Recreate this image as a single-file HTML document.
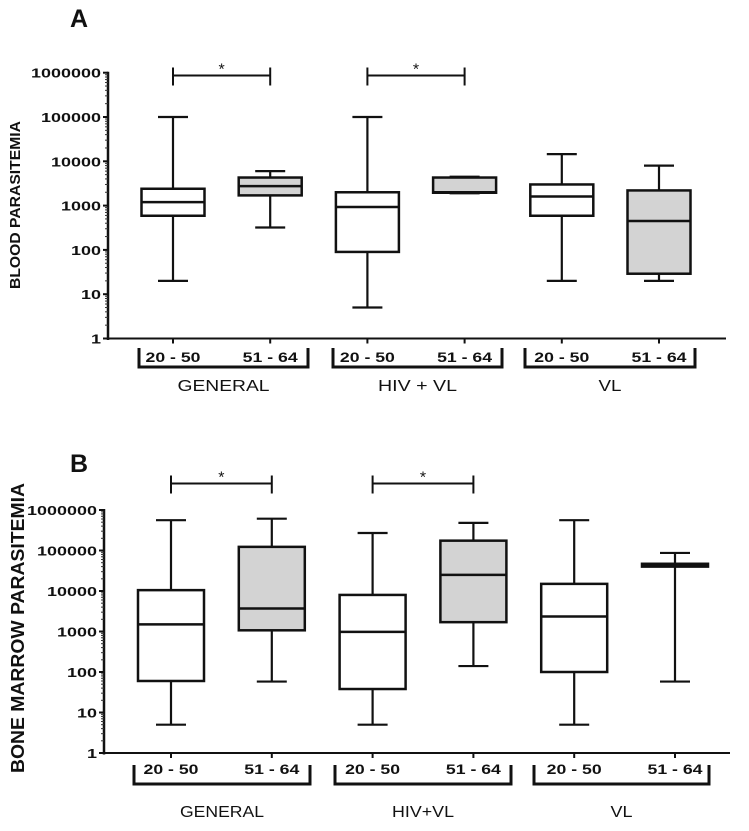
<!DOCTYPE html>
<html><head><meta charset="utf-8"><style>
html,body{margin:0;padding:0;background:#fff;}
svg{display:block;}
text{font-family:"Liberation Sans",Arial,sans-serif;fill:#111;}
</style></head><body>
<svg id="chart" width="749" height="831" viewBox="0 0 749 831" xmlns="http://www.w3.org/2000/svg"></svg>
<script>
// Shared categories
const groups = ["GENERAL", "HIV + VL", "VL"];
const ageBands = ["20 - 50", "51 - 64"];
const tickValues = [1, 10, 100, 1000, 10000, 100000, 1000000];
const tickLabels = ["1", "10", "100", "1000", "10000", "100000", "1000000"];

// Panel A: blood parasitemia [min, q1, median, q3, max] per box
const bloodMin = [20, 320, 5, 1900, 20, 20];
const bloodQ1 = [590, 1700, 90, 1950, 590, 29];
const bloodMedian = [1200, 2750, 930, 2000, 1600, 450];
const bloodQ3 = [2400, 4300, 2000, 4300, 3000, 2200];
const bloodMax = [100000, 6000, 100000, 4500, 14500, 8000];

// Panel B: bone marrow parasitemia
const marrowMin = [5, 58, 5, 140, 5, 58];
const marrowQ1 = [60, 1070, 38, 1700, 100, 40000];
const marrowMedian = [1500, 3700, 980, 25000, 2350, 43000];
const marrowQ3 = [10500, 123000, 8000, 175000, 15000, 47000];
const marrowMax = [560000, 610000, 270000, 480000, 560000, 87000];

// significance pairs (box index pairs)
const sigPairs = [[0, 1], [2, 3]];

const svg = document.getElementById('chart');
const NS = "http://www.w3.org/2000/svg";
function mk(tag, attrs, parent) {
  const e = document.createElementNS(NS, tag);
  for (const k in attrs) e.setAttribute(k, attrs[k]);
  (parent || svg).appendChild(e);
  return e;
}

function drawPanel(cfg) {
  const g = mk('g', {});
  
  
  const y = v => cfg.y1 - (Math.log10(v) - 0) * cfg.dec;
  const x = i => cfg.x0 + i * cfg.step;

  const L = mk('text', {x: 70, y: cfg.letterY, 'font-size': 25, 'font-weight': 'bold'}, g);
  L.textContent = cfg.letter;
  
  

  const t = mk('text', {x: 0, y: 0, 'font-size': cfg.titleSize, 'font-weight': 'bold', 'text-anchor': 'middle',
    transform: `translate(${cfg.titleX},${cfg.titleY}) rotate(-90)`, textLength: cfg.titleLen, lengthAdjust: 'spacingAndGlyphs'}, g);
  t.textContent = cfg.title;
  
  

  const ya = mk('line', {x1: cfg.axX, y1: y(1000000) - 1, x2: cfg.axX, y2: cfg.y1 + 1.5, stroke: '#111', 'stroke-width': 2.5}, g);
  
  
  const xa = mk('line', {x1: cfg.axX - 1, y1: cfg.y1, x2: cfg.axEnd, y2: cfg.y1, stroke: '#111', 'stroke-width': 2}, g);
  
  

  tickValues.forEach((v, i) => {
    const yy = y(v);
    mk('line', {x1: cfg.axX - 5, y1: yy, x2: cfg.axX, y2: yy, stroke: '#111', 'stroke-width': 2}, g);
    const tl = mk('text', {x: cfg.axX - 7, y: yy + 5, 'font-size': 13, 'font-weight': 'bold', 'text-anchor': 'end',
      textLength: tickLabels[i].length * cfg.digitW, lengthAdjust: 'spacingAndGlyphs'}, g);
    tl.textContent = tickLabels[i];
    
    
    if (i < tickValues.length - 1) {
      for (let m = 2; m <= 9; m++) {
        const my = y(v * m);
        mk('line', {x1: cfg.axX - 3, y1: my, x2: cfg.axX, y2: my, stroke: '#333', 'stroke-width': 1}, g);
      }
    }
  });

  const hw = cfg.hw;
  for (let i = 0; i < 6; i++) {
    const cx = x(i);
    const fill = i % 2 === 1 ? '#d3d3d3' : '#fff';
    const b = mk('g', {}, g);
    
    
    mk('line', {x1: cx, y1: y(cfg.max[i]), x2: cx, y2: y(cfg.min[i]), stroke: '#111', 'stroke-width': 2.2}, b);
    mk('line', {x1: cx - 15, y1: y(cfg.max[i]), x2: cx + 15, y2: y(cfg.max[i]), stroke: '#111', 'stroke-width': 2.2}, b);
    mk('line', {x1: cx - 15, y1: y(cfg.min[i]), x2: cx + 15, y2: y(cfg.min[i]), stroke: '#111', 'stroke-width': 2.2}, b);
    const top = y(cfg.q3[i]), bot = y(cfg.q1[i]);
    mk('rect', {x: cx - hw, y: top, width: hw * 2, height: Math.max(bot - top, 0.5), fill: fill, stroke: '#111', 'stroke-width': 2.5}, b);
    mk('line', {x1: cx - hw, y1: y(cfg.med[i]), x2: cx + hw, y2: y(cfg.med[i]), stroke: '#111', 'stroke-width': 2.5}, b);
    mk('line', {x1: cx, y1: cfg.y1, x2: cx, y2: cfg.y1 + 5, stroke: '#111', 'stroke-width': 2}, g);
    const al = mk('text', {x: cx, y: cfg.ageY, 'font-size': 14, 'font-weight': 'bold', 'text-anchor': 'middle',
      textLength: 55, lengthAdjust: 'spacingAndGlyphs'}, g);
    al.textContent = ageBands[i % 2];
    
    
  }

  groups.forEach((name, gi) => {
    const br = cfg.brackets[gi];
    const p = mk('path', {d: `M${br[0]},${cfg.brTop} V${cfg.brBot} H${br[1]} V${cfg.brTop}`, fill: 'none', stroke: '#111', 'stroke-width': 3}, g);
    
    
    const gl = mk('text', {x: (br[0] + br[1]) / 2, y: cfg.groupY, 'font-size': 16, 'text-anchor': 'middle',
      textLength: cfg.groupLens[gi], lengthAdjust: 'spacingAndGlyphs'}, g);
    gl.textContent = cfg.groupNames[gi];
    
    
  });

  sigPairs.forEach(pr => {
    const a = x(pr[0]), c = x(pr[1]);
    const s = mk('g', {}, g);
    
    
    mk('line', {x1: a, y1: cfg.sigY, x2: c, y2: cfg.sigY, stroke: '#111', 'stroke-width': 2}, s);
    mk('line', {x1: a, y1: cfg.sigY - 8, x2: a, y2: cfg.sigY + 10, stroke: '#111', 'stroke-width': 2}, s);
    mk('line', {x1: c, y1: cfg.sigY - 8, x2: c, y2: cfg.sigY + 10, stroke: '#111', 'stroke-width': 2}, s);
    const st = mk('text', {x: (a + c) / 2, y: cfg.sigY - 1, 'font-size': 16, 'text-anchor': 'middle'}, s);
    st.textContent = '*';
  });
}

drawPanel({
  name: 'panel-a-blood-parasitemia', letter: 'A', letterY: 27,
  title: 'BLOOD PARASITEMIA', titleX: 20, titleY: 205, titleSize: 15, titleLen: 168,
  axX: 108, axEnd: 726, y1: 338.5, dec: 44.3, x0: 173, step: 97.2, hw: 31.5, digitW: 10,
  min: bloodMin, q1: bloodQ1, med: bloodMedian, q3: bloodQ3, max: bloodMax,
  ageY: 362, brackets: [[139, 308], [333, 502], [525, 695]], brTop: 348, brBot: 367,
  groupY: 391, groupNames: ["GENERAL", "HIV + VL", "VL"], groupLens: [92, 79, 23], sigY: 75.5
});
drawPanel({
  name: 'panel-b-bone-marrow-parasitemia', letter: 'B', letterY: 472,
  title: 'BONE MARROW PARASITEMIA', titleX: 24, titleY: 628, titleSize: 18, titleLen: 290,
  axX: 104, axEnd: 730, y1: 753, dec: 40.5, x0: 171, step: 100.8, hw: 33, digitW: 10,
  min: marrowMin, q1: marrowQ1, med: marrowMedian, q3: marrowQ3, max: marrowMax,
  ageY: 774, brackets: [[134, 310], [335, 511], [534, 709]], brTop: 765, brBot: 784,
  groupY: 817, groupNames: ["GENERAL", "HIV+VL", "VL"], groupLens: [84, 62, 22], sigY: 483.5
});
</script>
</body></html>
